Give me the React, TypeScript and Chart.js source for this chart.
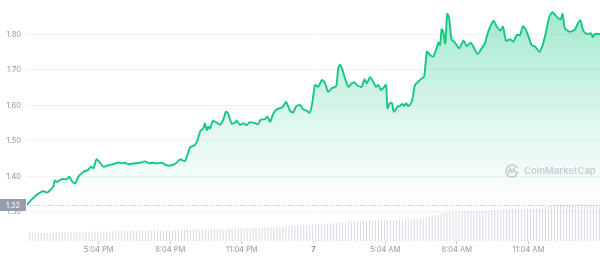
import React, { useEffect, useRef } from 'react';
import { Chart, registerables } from 'chart.js';

Chart.register(...registerables);

// minutes since 2:04 PM (start of the 24h window)
const priceMinutes = [
  0, 12, 24, 33, 41, 50, 58, 66, 70, 76, 87, 100, 106, 112, 121, 129, 142, 154, 160, 167,
  175, 184, 192, 204, 217, 229, 238, 246, 255, 267, 284, 297, 305, 317, 326, 339, 351, 364, 376, 385,
  397, 410, 418, 427, 435, 443, 447, 452, 456, 460, 467, 477, 485, 493, 500, 506, 514, 523, 527, 535,
  544, 552, 559, 569, 581, 587, 598, 604, 611, 619, 628, 636, 643, 651, 661, 669, 676, 686, 694, 703,
  710, 716, 724, 732, 741, 749, 757, 766, 777, 782, 787, 793, 799, 808, 816, 824, 829, 841, 848, 854,
  862, 870, 877, 883, 889, 895, 902, 906, 912, 917, 922, 931, 937, 944, 947, 953, 958, 967, 975, 981,
  989, 998, 1005, 1013, 1021, 1025, 1034, 1038, 1042, 1046, 1051, 1056, 1061, 1067, 1076, 1086, 1097, 1105, 1115, 1122,
  1132, 1143, 1151, 1159, 1172, 1180, 1189, 1196, 1204, 1214, 1222, 1231, 1239, 1247, 1256, 1268, 1277, 1288, 1296, 1304,
  1313, 1321, 1329, 1335, 1341, 1346, 1352, 1365, 1377, 1390, 1398, 1408, 1417, 1422, 1427, 1436, 1440,
];

const priceValues = [
  1.320, 1.335, 1.347, 1.354, 1.358, 1.354, 1.361, 1.371, 1.388, 1.384, 1.392, 1.392, 1.399, 1.388, 1.380, 1.399, 1.413, 1.418, 1.427, 1.423,
  1.448, 1.437, 1.427, 1.431, 1.434, 1.439, 1.437, 1.438, 1.434, 1.436, 1.438, 1.442, 1.437, 1.438, 1.436, 1.438, 1.431, 1.431, 1.438, 1.448,
  1.443, 1.482, 1.485, 1.497, 1.526, 1.535, 1.549, 1.530, 1.540, 1.535, 1.556, 1.551, 1.545, 1.559, 1.582, 1.575, 1.549, 1.551, 1.557, 1.545,
  1.549, 1.544, 1.552, 1.551, 1.547, 1.559, 1.561, 1.568, 1.554, 1.577, 1.589, 1.592, 1.596, 1.609, 1.585, 1.580, 1.596, 1.601, 1.589, 1.585,
  1.579, 1.600, 1.657, 1.652, 1.671, 1.662, 1.638, 1.648, 1.654, 1.704, 1.714, 1.699, 1.676, 1.652, 1.662, 1.664, 1.657, 1.652, 1.673, 1.662,
  1.679, 1.666, 1.652, 1.657, 1.643, 1.648, 1.657, 1.592, 1.606, 1.606, 1.582, 1.596, 1.598, 1.604, 1.598, 1.606, 1.598, 1.610, 1.657, 1.664,
  1.673, 1.681, 1.751, 1.742, 1.737, 1.746, 1.776, 1.770, 1.814, 1.807, 1.775, 1.857, 1.845, 1.786, 1.776, 1.761, 1.782, 1.767, 1.776, 1.765,
  1.745, 1.761, 1.775, 1.807, 1.838, 1.823, 1.810, 1.821, 1.782, 1.786, 1.779, 1.798, 1.798, 1.823, 1.807, 1.770, 1.765, 1.751, 1.770, 1.805,
  1.850, 1.862, 1.852, 1.845, 1.842, 1.857, 1.817, 1.807, 1.814, 1.840, 1.810, 1.801, 1.803, 1.792, 1.801, 1.801, 1.801,
];

// 24h volume bars (relative units)
const volumeValues = [
  80, 80, 80, 81, 80, 80, 80, 80, 80, 88, 88, 88, 89, 88, 88, 89,
  90, 90, 91, 90, 90, 92, 93, 93, 93, 94, 95, 95, 96, 100, 100, 100,
  101, 101, 102, 102, 103, 103, 104, 104, 104, 105, 105, 105, 106, 106, 107, 108,
  108, 109, 110, 110, 111, 111, 112, 112, 113, 113, 114, 114, 115, 116, 117, 118,
  119, 120, 121, 122, 122, 124, 125, 126, 128, 129, 130, 131, 132, 133, 134, 135,
  137, 138, 140, 141, 142, 143, 145, 147, 149, 151, 153, 156, 158, 160, 163, 166,
  168, 170, 172, 174, 176, 178, 180, 182, 184, 186, 188, 190, 192, 194, 196, 198,
  200, 202, 204, 206, 208, 210, 212, 213, 214, 214, 214, 214, 215, 215, 216, 217,
  218, 220, 222, 226, 230, 235, 240, 248, 256, 264, 272, 280, 287, 290, 291, 292,
  293, 294, 296, 298, 300, 301, 302, 303, 304, 306, 308, 309, 311, 313, 315, 317,
  317, 318, 318, 319, 320, 320, 321, 321, 322, 322, 323, 325, 330, 340, 348, 354,
  357, 358, 360, 360, 361, 362, 362, 363, 363, 364, 364, 364, 364, 364, 364, 364,
];

const tickMinutes = [180, 360, 540, 720, 900, 1080, 1260];
const tickLabels = ['5:04 PM', '8:04 PM', '11:04 PM', '7', '5:04 AM', '8:04 AM', '11:04 AM'];
const yTickValues = [1.3, 1.4, 1.5, 1.6, 1.7, 1.8];
const openPrice = 1.32;
const openLabel = '1.32';

const FONT = 'Inter, "Noto Sans", sans-serif';

const overlayPlugin = {
  id: 'overlay',
  beforeDatasetsDraw(chart: any) {
    const { ctx, chartArea, scales } = chart;
    const y = Math.round(scales.y.getPixelForValue(openPrice)) + 0.5;
    ctx.save();
    ctx.strokeStyle = '#b9bdc8';
    ctx.lineWidth = 1;
    ctx.setLineDash([1, 2]);
    ctx.beginPath();
    ctx.moveTo(chartArea.left, y);
    ctx.lineTo(chartArea.right, y);
    ctx.stroke();
    ctx.restore();
  },
  afterDatasetsDraw(chart: any) {
    const { ctx, chartArea } = chart;
    ctx.save();
    const col = 'rgba(160,166,188,0.55)';
    const cx = chartArea.right - 88;
    const cy = 171;
    ctx.strokeStyle = col;
    ctx.lineWidth = 1.6;
    ctx.beginPath();
    ctx.arc(cx, cy, 6, Math.PI * 0.15, Math.PI * 1.85, false);
    ctx.stroke();
    ctx.beginPath();
    ctx.moveTo(cx - 3.5, cy + 2.5);
    ctx.lineTo(cx - 2, cy - 2.5);
    ctx.lineTo(cx, cy + 1.5);
    ctx.lineTo(cx + 2, cy - 2.5);
    ctx.lineTo(cx + 4, cy + 2);
    ctx.lineTo(cx + 6.5, cy + 1);
    ctx.stroke();
    ctx.fillStyle = col;
    ctx.font = `600 9.5px ${FONT}`;
    ctx.textAlign = 'left';
    ctx.textBaseline = 'middle';
    ctx.fillText('CoinMarketCap', cx + 12, cy + 0.5);
    ctx.restore();
  },
  afterDraw(chart: any) {
    const { ctx, scales } = chart;
    const y = scales.y.getPixelForValue(openPrice);
    ctx.save();
    ctx.fillStyle = '#979dab';
    ctx.fillRect(0, Math.round(y) - 6, 26, 12);
    ctx.fillStyle = '#ffffff';
    ctx.font = `7.5px ${FONT}`;
    ctx.textAlign = 'center';
    ctx.textBaseline = 'middle';
    ctx.fillText(openLabel, 13, Math.round(y) + 0.5);
    ctx.restore();
  },
};

export default function App() {
  const canvasRef = useRef<HTMLCanvasElement | null>(null);

  useEffect(() => {
    document.body.style.margin = '0';
    const canvas = canvasRef.current;
    if (!canvas) return;

    const points = priceMinutes.map((m, i) => ({ x: m, y: priceValues[i] }));
    const volLabels = volumeValues.map((_, i) => String(i));

    const chart = new Chart(canvas, {
      type: 'line',
      data: {
        datasets: [
          {
            type: 'line',
            data: points,
            xAxisID: 'x',
            yAxisID: 'y',
            borderColor: '#16c784',
            borderWidth: 1.9,
            pointRadius: 0,
            tension: 0.25,
            order: 0,
            fill: { value: openPrice },
            backgroundColor: (ctx: any) => {
              const area = ctx.chart.chartArea;
              if (!area) return 'rgba(22,199,132,0.2)';
              const yb = ctx.chart.scales.y.getPixelForValue(openPrice);
              const g = ctx.chart.ctx.createLinearGradient(0, area.top, 0, yb);
              g.addColorStop(0, 'rgba(22,199,132,0.42)');
              g.addColorStop(0.6, 'rgba(22,199,132,0.14)');
              g.addColorStop(1, 'rgba(22,199,132,0.0)');
              return g;
            },
          } as any,
          {
            type: 'bar',
            data: volumeValues,
            xAxisID: 'xVol',
            yAxisID: 'yVol',
            backgroundColor: '#d3d7e4',
            barPercentage: 0.62,
            categoryPercentage: 1,
            order: 1,
          } as any,
        ],
      },
      options: {
        animation: false,
        responsive: true,
        maintainAspectRatio: false,
        layout: { padding: 0 },
        plugins: {
          legend: { display: false },
          tooltip: { enabled: false },
        },
        font: { family: FONT } as any,
        scales: {
          x: {
            type: 'linear',
            min: 0,
            max: 1440,
            position: 'bottom',
            afterBuildTicks: (scale: any) => {
              scale.ticks = tickMinutes.map((v) => ({ value: v }));
            },
            afterFit: (scale: any) => {
              scale.height = 17;
              scale.paddingLeft = 0;
              scale.paddingRight = 0;
            },
            grid: {
              display: true,
              drawOnChartArea: false,
              drawTicks: true,
              tickLength: 3,
              color: '#c5c9d3',
            },
            border: { display: false },
            ticks: {
              autoSkip: false,
              maxRotation: 0,
              padding: 1,
              color: '#8f96a6',
              font: (ctx: any) => ({
                family: FONT,
                size: 7.5,
                weight: tickLabels[ctx.index] === '7' ? 'bold' : 'normal',
              }),
              callback: (_v: any, i: number) => tickLabels[i],
            },
          },
          xVol: {
            type: 'category',
            labels: volLabels,
            display: false,
            offset: true,
          },
          y: {
            type: 'linear',
            position: 'left',
            min: 1.2177,
            max: 1.8966,
            afterBuildTicks: (scale: any) => {
              scale.ticks = yTickValues.map((v) => ({ value: v }));
            },
            afterFit: (scale: any) => {
              scale.width = 27;
              scale.paddingTop = 0;
              scale.paddingBottom = 0;
            },
            grid: {
              color: '#f1f2f5',
              drawTicks: false,
            },
            border: { display: false },
            ticks: {
              padding: 6,
              color: '#8f96a6',
              font: { family: FONT, size: 7.5 },
              callback: (v: any) => Number(v).toFixed(2),
            },
          },
          yVol: {
            type: 'linear',
            display: false,
            min: 0,
            max: 2410,
          },
        },
      } as any,
      plugins: [overlayPlugin],
    });

    return () => chart.destroy();
  }, []);

  return (
    <div style={{ width: 600, height: 258, position: 'relative' }}>
      <canvas ref={canvasRef} />
    </div>
  );
}
